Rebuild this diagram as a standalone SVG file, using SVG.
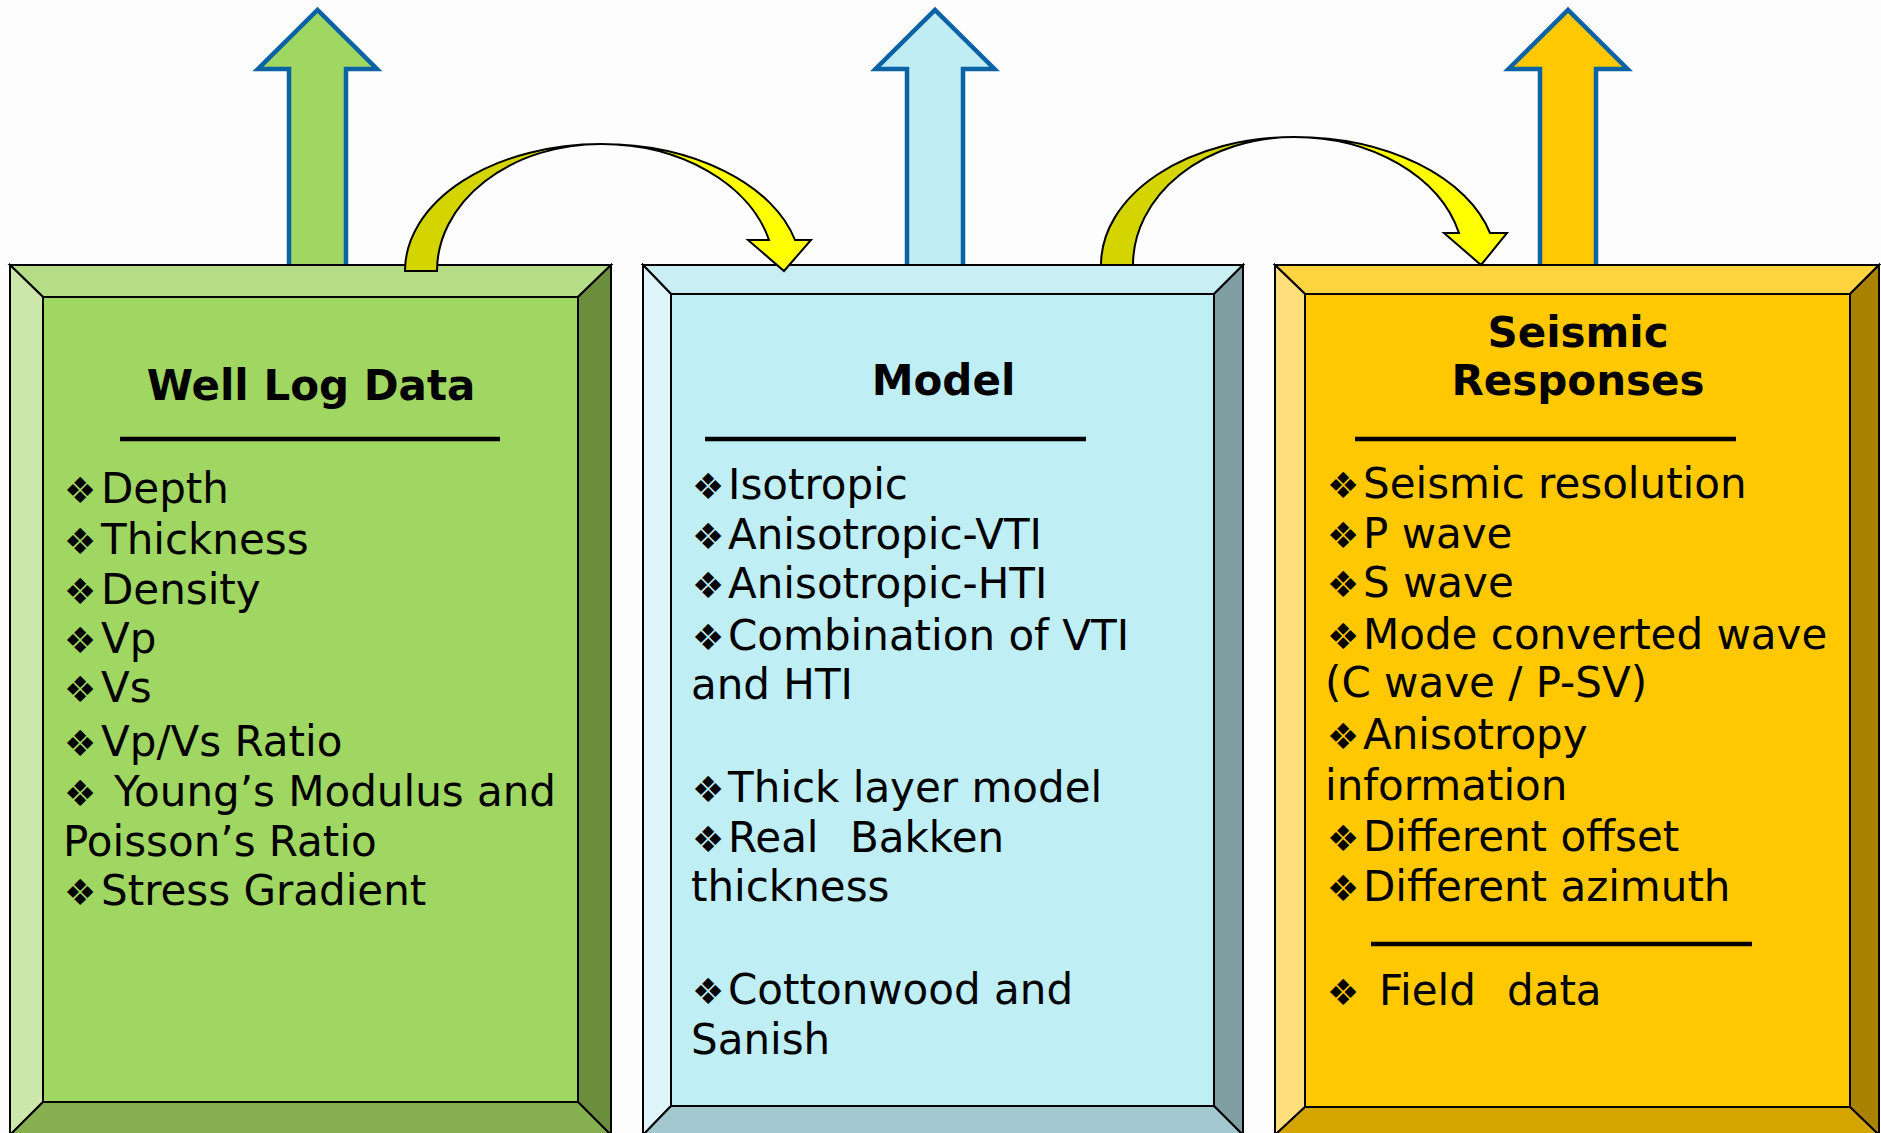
<svg xmlns="http://www.w3.org/2000/svg" width="1881" height="1133" viewBox="0 0 1881 1133">
<style>
text{font-family:"DejaVu Sans",Verdana,sans-serif;fill:#000}
.t{font-size:42px;font-weight:bold;text-anchor:middle}
.i{font-size:42px}
.b{font-size:36px}
.edge{stroke:#000;stroke-width:2;stroke-linejoin:miter}
.rule{stroke:#000;stroke-width:4.5}
.up{stroke:#0B63A6;stroke-width:4.5;stroke-linejoin:miter}
.ca{stroke:#000;stroke-width:2;stroke-linejoin:miter}
</style>
<rect width="1881" height="1133" fill="#FDFDFD"/>
<g id="up-arrows">
<path class="up" fill="#A0D662" d="M289,268 L289,69 L258,69 L317.5,10 L377,69 L346,69 L346,268"/>
<path class="up" fill="#BFEDF3" d="M907,268 L907,69 L875.5,69 L935,10 L994.5,69 L963,69 L963,268"/>
<path class="up" fill="#FFC800" d="M1540,268 L1540,69 L1508.5,69 L1568,10 L1627.5,69 L1596,69 L1596,268"/>
</g>
<g id="node-well-log-data">
<rect x="43" y="297" width="535" height="805" fill="#A0D662" class="edge"/>
<polygon class="edge" fill="#B5DD88" points="10,265 611,265 578,297 43,297"/>
<polygon class="edge" fill="#CDE7AB" points="10,265 43,297 43,1102 10,1135"/>
<polygon class="edge" fill="#6B8E3D" points="611,265 611,1135 578,1102 578,297"/>
<polygon class="edge" fill="#86B04F" points="10,1135 43,1102 578,1102 611,1135"/>
<text class="t" x="311" y="400">Well Log Data</text>
<line class="rule" x1="120" y1="439" x2="500" y2="439"/>
<text class="i" y="503"><tspan class="b" x="64">❖</tspan><tspan x="101">Depth</tspan></text>
<text class="i" y="553.5"><tspan class="b" x="64">❖</tspan><tspan x="101">Thickness</tspan></text>
<text class="i" y="603.5"><tspan class="b" x="64">❖</tspan><tspan x="101">Density</tspan></text>
<text class="i" y="653"><tspan class="b" x="64">❖</tspan><tspan x="101">Vp</tspan></text>
<text class="i" y="702"><tspan class="b" x="64">❖</tspan><tspan x="101">Vs</tspan></text>
<text class="i" y="756"><tspan class="b" x="64">❖</tspan><tspan x="101">Vp/Vs Ratio</tspan></text>
<text class="i" y="806"><tspan class="b" x="64">❖</tspan><tspan x="114">Young’s Modulus and</tspan></text>
<text class="i" x="63" y="856">Poisson’s Ratio</text>
<text class="i" y="905"><tspan class="b" x="64">❖</tspan><tspan x="101">Stress Gradient</tspan></text>
</g>
<g id="node-model">
<rect x="671" y="294" width="543" height="812" fill="#BFEEF4" class="edge"/>
<polygon class="edge" fill="#C9EFF5" points="643,265 1243,265 1214,294 671,294"/>
<polygon class="edge" fill="#DDF4F8" points="643,265 671,294 671,1106 643,1135"/>
<polygon class="edge" fill="#7F9EA2" points="1243,265 1243,1135 1214,1106 1214,294"/>
<polygon class="edge" fill="#A2C7CE" points="643,1135 671,1106 1214,1106 1243,1135"/>
<text class="t" x="943.5" y="395">Model</text>
<line class="rule" x1="705" y1="439" x2="1086" y2="439"/>
<text class="i" y="499"><tspan class="b" x="692">❖</tspan><tspan x="728">Isotropic</tspan></text>
<text class="i" y="549"><tspan class="b" x="692">❖</tspan><tspan x="728">Anisotropic-VTI</tspan></text>
<text class="i" y="598"><tspan class="b" x="692">❖</tspan><tspan x="728">Anisotropic-HTI</tspan></text>
<text class="i" y="649.5"><tspan class="b" x="692">❖</tspan><tspan x="728">Combination of VTI</tspan></text>
<text class="i" x="691" y="699">and HTI</text>
<text class="i" y="802"><tspan class="b" x="692">❖</tspan><tspan x="728">Thick layer model</tspan></text>
<text class="i" y="851.5"><tspan class="b" x="692">❖</tspan><tspan x="728">Real</tspan><tspan x="850">Bakken</tspan></text>
<text class="i" x="691" y="900.5">thickness</text>
<text class="i" y="1003.5"><tspan class="b" x="692">❖</tspan><tspan x="728">Cottonwood and</tspan></text>
<text class="i" x="691" y="1054">Sanish</text>
</g>
<g id="node-seismic-responses">
<rect x="1305" y="294" width="545" height="813" fill="#FFC800" class="edge"/>
<polygon class="edge" fill="#FFD43E" points="1275,265 1879,265 1850,294 1305,294"/>
<polygon class="edge" fill="#FFDF7B" points="1275,265 1305,294 1305,1107 1275,1135"/>
<polygon class="edge" fill="#A88200" points="1879,265 1879,1135 1850,1107 1850,294"/>
<polygon class="edge" fill="#D4A500" points="1275,1135 1305,1107 1850,1107 1879,1135"/>
<text class="t" x="1578" y="346.5">Seismic</text>
<text class="t" x="1578" y="395">Responses</text>
<line class="rule" x1="1355" y1="439" x2="1736" y2="439"/>
<text class="i" y="498"><tspan class="b" x="1327">❖</tspan><tspan x="1363">Seismic resolution</tspan></text>
<text class="i" y="548"><tspan class="b" x="1327">❖</tspan><tspan x="1363">P wave</tspan></text>
<text class="i" y="597"><tspan class="b" x="1327">❖</tspan><tspan x="1363">S wave</tspan></text>
<text class="i" y="648.5"><tspan class="b" x="1327">❖</tspan><tspan x="1363">Mode converted wave</tspan></text>
<text class="i" x="1325" y="697">(C wave / P-SV)</text>
<text class="i" y="748.5"><tspan class="b" x="1327">❖</tspan><tspan x="1363">Anisotropy</tspan></text>
<text class="i" x="1325" y="800">information</text>
<text class="i" y="850.5"><tspan class="b" x="1327">❖</tspan><tspan x="1363">Different offset</tspan></text>
<text class="i" y="900.5"><tspan class="b" x="1327">❖</tspan><tspan x="1363">Different azimuth</tspan></text>
<line class="rule" x1="1371" y1="944" x2="1752" y2="944"/>
<text class="i" y="1004.5"><tspan class="b" x="1327">❖</tspan><tspan x="1379">Field</tspan><tspan x="1507">data</tspan></text>
</g>
<g id="connectors">
<path class="ca" fill="#D4D400" d="M405,271 A196,127 0 0 1 601,144 A164,127 0 0 0 437,271 Z"/>
<path class="ca" fill="#FFFF00" d="M601,144 A200,127 0 0 1 795,240 L811,240 L784,271 L748,240 L769,240 A173,127 0 0 0 601,144 Z"/>
<path class="ca" fill="#D4D400" d="M1101,265 A193,128 0 0 1 1294,137 A161,128 0 0 0 1133,265 Z"/>
<path class="ca" fill="#FFFF00" d="M1294,137 A202,128 0 0 1 1490,233 L1507,233 L1481,265 L1444,233 L1459,233 A170,128 0 0 0 1294,137 Z"/>
</g>
</svg>
